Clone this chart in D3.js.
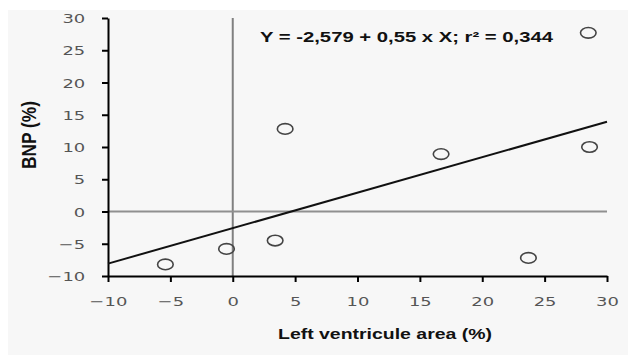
<!DOCTYPE html>
<html><head><meta charset="utf-8">
<script src="https://cdn.jsdelivr.net/npm/d3@7"></script>
<style>body{margin:0;background:#fff}svg{display:block}</style>
</head><body>
<svg id="c" width="631" height="358"></svg>
<script>
const lvArea = [28.5, 4.2, 16.7, 28.6, -0.5, 3.4, -5.4, 23.7];
const bnp    = [27.7, 12.8, 8.9, 10.0, -5.8, -4.5, -8.2, -7.2];
const intercept = -2.579, slope = 0.55;
const xTicks = [-10, -5, 0, 5, 10, 15, 20, 25, 30];
const yTicks = [-10, -5, 0, 5, 10, 15, 20, 25, 30];
const equation = "Y = -2,579 + 0,55 x X; r\u00B2 = 0,344";
const xTitle = "Left ventricule area (%)";
const yTitle = "BNP (%)";

const svg = d3.select("#c");
svg.append("rect").attr("x",8).attr("y",10).attr("width",620).attr("height",345).attr("fill","#f7f7f7");

const x = d3.scaleLinear().domain([-10,30]).range([108,607]);
const y = d3.scaleLinear().domain([-10,30]).range([276,18]);
const fmt = d => d < 0 ? "\u2212" + Math.abs(d) : String(d);

// reference lines
svg.append("line").attr("x1",x(0)).attr("x2",x(0)).attr("y1",y(30)).attr("y2",y(-10))
  .attr("stroke","#808080").attr("stroke-width",2);
svg.append("line").attr("x1",x(-10)).attr("x2",x(30)).attr("y1",y(0)).attr("y2",y(0))
  .attr("stroke","#909090").attr("stroke-width",2);

// axes
const gx = svg.append("g").attr("transform",`translate(0,${y(-10)})`)
  .call(d3.axisBottom(x).tickValues(xTicks).tickFormat(fmt).tickSize(6).tickSizeOuter(0));
const gy = svg.append("g").attr("transform",`translate(${x(-10)},0)`)
  .call(d3.axisLeft(y).tickValues(yTicks).tickFormat(fmt).tickSize(6).tickSizeOuter(0));
[gx, gy].forEach(g => {
  g.select(".domain").attr("stroke","#000").attr("stroke-width",2);
  g.selectAll(".tick line").attr("stroke","#000").attr("stroke-width",2);
  g.selectAll(".tick text").attr("fill","#555").style("font-family","DejaVu Sans").style("font-size","13px");
});
gx.selectAll(".tick text").attr("y",21).attr("transform","scale(1.38,1)");
gy.selectAll(".tick text").attr("x",-16.5).attr("dy","0.36em").attr("transform","scale(1.38,1)");

// regression line
svg.append("line").attr("x1",x(-10)).attr("y1",y(intercept + slope*-10))
  .attr("x2",x(30)).attr("y2",y(intercept + slope*30))
  .attr("stroke","#111").attr("stroke-width",2);

// points
svg.selectAll("ellipse.pt").data(lvArea.map((v,i)=>[v,bnp[i]])).join("ellipse")
  .attr("class","pt").attr("cx",d=>x(d[0])).attr("cy",d=>y(d[1]))
  .attr("rx",7.8).attr("ry",5.3).attr("fill","none").attr("stroke","#444").attr("stroke-width",1.6);

// texts
svg.append("text").attr("x",260).attr("y",42).text(equation)
  .attr("font-family","Liberation Sans, Arial").attr("font-weight","bold").attr("font-size",14)
  .attr("textLength",293).attr("lengthAdjust","spacingAndGlyphs").attr("fill","#111");
svg.append("text").attr("x",278).attr("y",339).text(xTitle)
  .attr("font-family","Liberation Sans, Arial").attr("font-weight","bold").attr("font-size",15)
  .attr("textLength",214).attr("lengthAdjust","spacingAndGlyphs").attr("fill","#111");
svg.append("text").attr("transform","translate(36,135) scale(1.35,1) rotate(-90)").attr("text-anchor","middle")
  .text(yTitle).attr("font-family","Liberation Sans, Arial").attr("font-weight","bold").attr("font-size",15)
  .attr("textLength",68).attr("lengthAdjust","spacingAndGlyphs").attr("fill","#111");
</script>
</body></html>
